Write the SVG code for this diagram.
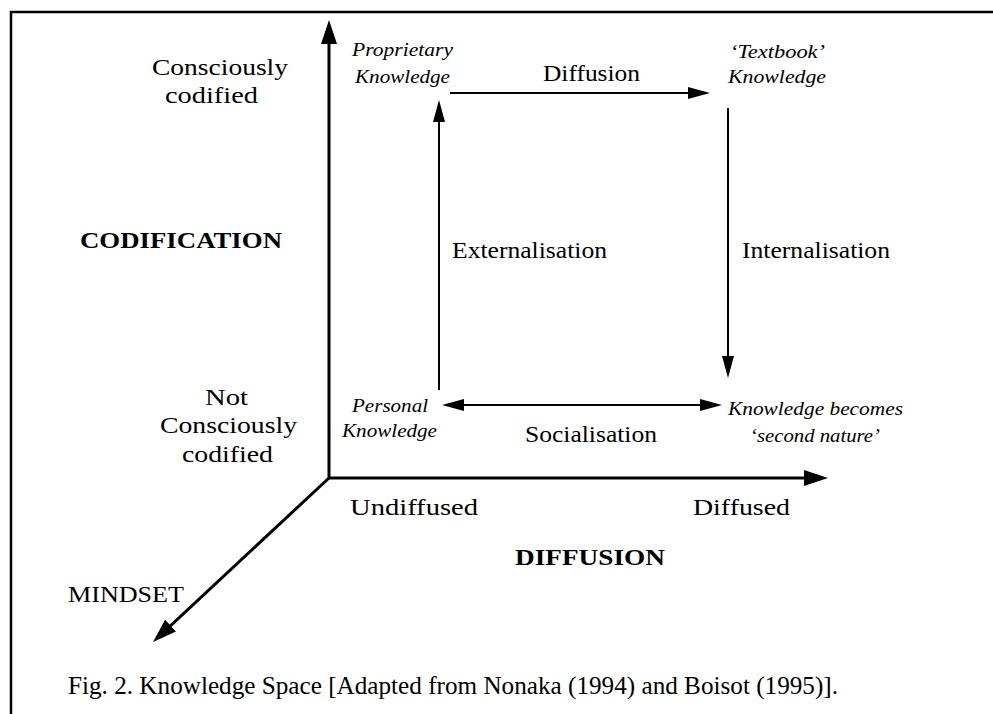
<svg xmlns="http://www.w3.org/2000/svg" width="993" height="714" viewBox="0 0 993 714">
  <style>
    .lbl { font-family: "Liberation Serif", "Times New Roman", serif; font-size: 24px; fill: #000; }
    .it { font-family: "Liberation Serif", "Times New Roman", serif; font-size: 19px; font-style: italic; fill: #000; }
    .bold { font-family: "Liberation Serif", "Times New Roman", serif; font-size: 24px; font-weight: bold; fill: #000; }
    .cap { font-family: "Liberation Serif", "Times New Roman", serif; font-size: 25px; fill: #000; }
    .axis { stroke: #000; stroke-width: 3; fill: none; }
    .flow { stroke: #000; stroke-width: 2; fill: none; }
  </style>
  <defs>
    <marker id="axHead" markerUnits="userSpaceOnUse" markerWidth="24" markerHeight="16" refX="12" refY="8" orient="auto-start-reverse">
      <path d="M0,0 L24,8 L0,16 z" fill="#000"/>
    </marker>
    <marker id="flowHead" markerUnits="userSpaceOnUse" markerWidth="22" markerHeight="12" refX="11" refY="6" orient="auto-start-reverse">
      <path d="M0,0 L22,6 L0,12 z" fill="#000"/>
    </marker>
  </defs>

  <rect width="993" height="714" fill="#fff"/>
  <!-- frame: left and top rules -->
  <path d="M11,714 V12 H993" fill="none" stroke="#000" stroke-width="2.5"/>

  <!-- axes and transfer arrows -->
  <g id="connectors">
    <line class="axis" x1="329" y1="478" x2="329" y2="32" marker-end="url(#axHead)"/>
    <line class="axis" x1="329" y1="478" x2="816" y2="478" marker-end="url(#axHead)"/>
    <line class="axis" x1="329" y1="478" x2="161.8" y2="633.8" marker-end="url(#axHead)"/>
    <line class="flow" x1="439" y1="390" x2="439" y2="111" marker-end="url(#flowHead)"/>
    <line class="flow" x1="450" y1="93" x2="699" y2="93" marker-end="url(#flowHead)"/>
    <line class="flow" x1="728" y1="108" x2="728" y2="367" marker-end="url(#flowHead)"/>
    <line class="flow" x1="453" y1="405" x2="711" y2="405" marker-start="url(#flowHead)" marker-end="url(#flowHead)"/>
  </g>

  <!-- codification axis labels -->
  <g id="codified-label">
    <text class="lbl" x="152" y="75" textLength="136" lengthAdjust="spacingAndGlyphs">Consciously</text>
    <text class="lbl" x="165" y="103" textLength="93" lengthAdjust="spacingAndGlyphs">codified</text>
  </g>
  <g id="codification-axis">
    <text class="bold" x="80" y="248" textLength="202" lengthAdjust="spacingAndGlyphs">CODIFICATION</text>
  </g>
  <g id="uncodified-label">
    <text class="lbl" x="205" y="405" textLength="43" lengthAdjust="spacingAndGlyphs">Not</text>
    <text class="lbl" x="160" y="433" textLength="137" lengthAdjust="spacingAndGlyphs">Consciously</text>
    <text class="lbl" x="182" y="462" textLength="91" lengthAdjust="spacingAndGlyphs">codified</text>
  </g>

  <!-- knowledge states -->
  <g id="proprietary-knowledge">
    <text class="it" x="352" y="56" textLength="101" lengthAdjust="spacingAndGlyphs">Proprietary</text>
    <text class="it" x="355" y="83" textLength="95" lengthAdjust="spacingAndGlyphs">Knowledge</text>
  </g>
  <g id="textbook-knowledge">
    <text class="it" x="730" y="58" textLength="95" lengthAdjust="spacingAndGlyphs">‘Textbook’</text>
    <text class="it" x="728" y="83" textLength="98" lengthAdjust="spacingAndGlyphs">Knowledge</text>
  </g>
  <g id="personal-knowledge">
    <text class="it" x="352" y="412" textLength="76" lengthAdjust="spacingAndGlyphs">Personal</text>
    <text class="it" x="342" y="437" textLength="95" lengthAdjust="spacingAndGlyphs">Knowledge</text>
  </g>
  <g id="second-nature">
    <text class="it" x="728" y="415" textLength="175" lengthAdjust="spacingAndGlyphs">Knowledge becomes</text>
    <text class="it" x="750" y="442" textLength="130" lengthAdjust="spacingAndGlyphs">‘second nature’</text>
  </g>

  <!-- transfer labels -->
  <g id="label-diffusion">
    <text class="lbl" x="543" y="81" textLength="97" lengthAdjust="spacingAndGlyphs">Diffusion</text>
  </g>
  <g id="label-externalisation">
    <text class="lbl" x="452" y="258" textLength="155" lengthAdjust="spacingAndGlyphs">Externalisation</text>
  </g>
  <g id="label-internalisation">
    <text class="lbl" x="742" y="258" textLength="148" lengthAdjust="spacingAndGlyphs">Internalisation</text>
  </g>
  <g id="label-socialisation">
    <text class="lbl" x="525" y="442" textLength="132" lengthAdjust="spacingAndGlyphs">Socialisation</text>
  </g>

  <!-- diffusion axis labels -->
  <g id="undiffused-label">
    <text class="lbl" x="350" y="515" textLength="128" lengthAdjust="spacingAndGlyphs">Undiffused</text>
  </g>
  <g id="diffused-label">
    <text class="lbl" x="693" y="515" textLength="97" lengthAdjust="spacingAndGlyphs">Diffused</text>
  </g>
  <g id="diffusion-axis">
    <text class="bold" x="515" y="565" textLength="150" lengthAdjust="spacingAndGlyphs">DIFFUSION</text>
  </g>
  <g id="mindset-axis">
    <text class="lbl" x="68" y="602" font-size="25" textLength="116" lengthAdjust="spacingAndGlyphs">MINDSET</text>
  </g>

  <!-- caption -->
  <text class="cap" x="68" y="694" textLength="770" lengthAdjust="spacingAndGlyphs">Fig. 2.  Knowledge Space [Adapted from Nonaka (1994) and Boisot (1995)].</text>
</svg>
